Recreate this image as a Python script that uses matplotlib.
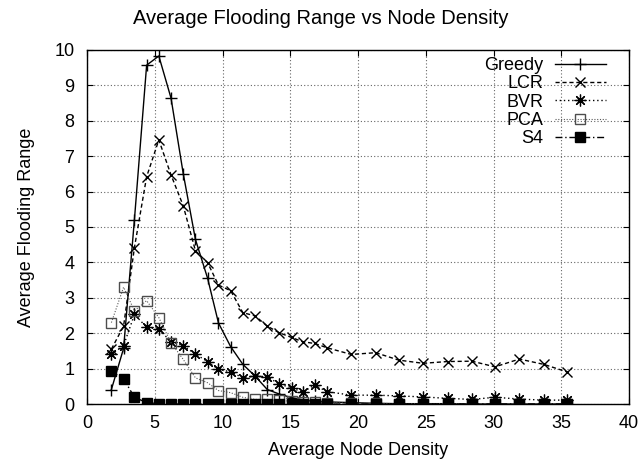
"""Average flooding range vs node density, gnuplot-style line chart."""

import matplotlib

matplotlib.use("Agg")
import matplotlib.pyplot as plt

plt.rcParams["font.family"] = ["Liberation Sans", "DejaVu Sans"]
plt.rcParams["font.size"] = 13

density = [1.8, 2.7, 3.5, 4.4, 5.3, 6.2, 7.1, 8.0, 8.9, 9.7, 10.6, 11.5, 12.4,
           13.3, 14.2, 15.1, 15.9, 16.8, 17.7, 19.5, 21.3, 23.0, 24.8, 26.6,
           28.4, 30.1, 31.9, 33.7, 35.4]

greedy = [0.41, 1.57, 5.21, 9.57, 9.83, 8.64, 6.51, 4.65, 3.55, 2.29, 1.62, 1.12,
          0.79, 0.41, 0.28, 0.18, 0.12, 0.08, 0.06, 0.04, 0.02, 0.01, 0.01, 0.01,
          0.0, 0.0, 0.0, 0.0, 0.0]
lcr = [1.55, 2.2, 4.42, 6.42, 7.46, 6.47, 5.6, 4.33, 3.99, 3.36, 3.2, 2.58, 2.49,
       2.2, 2.01, 1.88, 1.76, 1.71, 1.59, 1.4, 1.45, 1.24, 1.15, 1.2, 1.21, 1.05,
       1.27, 1.12, 0.91]
bvr = [1.4, 1.65, 2.53, 2.17, 2.11, 1.76, 1.65, 1.41, 1.2, 0.98, 0.91, 0.74,
       0.79, 0.77, 0.56, 0.46, 0.33, 0.54, 0.35, 0.25, 0.25, 0.23, 0.2, 0.16,
       0.13, 0.19, 0.14, 0.11, 0.11]
pca = [2.3, 3.3, 2.63, 2.92, 2.44, 1.73, 1.26, 0.74, 0.6, 0.38, 0.32, 0.19, 0.13,
       0.13, 0.1, 0.08, 0.06, 0.05, 0.04, 0.02, 0.02, 0.01, 0.01, 0.01, 0.01,
       0.0, 0.0, 0.0, 0.0]
s4 = [0.93, 0.71, 0.19, 0.04, 0.01, 0.0, 0.0, 0.0, 0.0, 0.0, 0.0, 0.0, 0.0,
      0.0, 0.0, 0.0, 0.0, 0.0, 0.0, 0.0, 0.0, 0.0, 0.0, 0.0, 0.0, 0.0, 0.0,
      0.0, 0.0]

x_ticks = [0, 5, 10, 15, 20, 25, 30, 35, 40]
y_ticks = [0, 1, 2, 3, 4, 5, 6, 7, 8, 9, 10]

fig = plt.figure(figsize=(6.42, 4.61), dpi=100)
ax = fig.add_axes([0.1355, 0.1236, 0.8445, 0.768])

ax.plot(density, greedy, color="black", linewidth=1.0, linestyle="-",
        marker="+", markersize=9, markeredgewidth=1.0, label="Greedy")
ax.plot(density, lcr, color="black", linewidth=1.0, linestyle=(0, (3, 2)),
        marker="x", markersize=7.5, markeredgewidth=1.0, label="LCR")
ax.plot(density, bvr, color="black", linewidth=1.0, linestyle=(0, (1, 2)),
        marker=(8, 2, 0), markersize=8.5, markeredgewidth=0.9, label="BVR")
ax.plot(density, pca, color="0.35", linewidth=0.8, linestyle=(0, (1, 1.5)),
        marker="s", markersize=7, markerfacecolor="none",
        markeredgecolor="0.3", markeredgewidth=1.0, label="PCA")
ax.plot(density, s4, color="black", linewidth=1.0, linestyle=(0, (5, 2, 1, 2)),
        marker="s", markersize=7.5, markerfacecolor="black",
        markeredgecolor="black", label="S4")

ax.set_xlim(0, 40)
ax.set_ylim(0, 10)
ax.set_xticks(x_ticks)
ax.set_yticks(y_ticks)
ax.tick_params(direction="in", top=True, right=True, length=4, width=0.8)
ax.tick_params(axis="x", pad=8)
ax.tick_params(axis="y", pad=9)
ax.grid(True, color="0.4", linestyle=(0, (1, 2)), linewidth=0.8)
for spine in ax.spines.values():
    spine.set_linewidth(1.0)

# gnuplot centres the title on the whole canvas, not the plot area
fig.text(0.5, 1 - 19 / 461, "Average Flooding Range vs Node Density",
         ha="center", va="center", fontsize=14.5)
ax.set_xlabel("Average Node Density", labelpad=7)
ax.set_ylabel("Average Flooding Range", labelpad=14)

ax.legend(loc="upper right", bbox_to_anchor=(0.97, 1.0), frameon=False,
          markerfirst=False, handlelength=2.8, handletextpad=0.65,
          labelspacing=0.07, borderaxespad=0.0, fontsize=13)

fig.savefig("out.png", dpi=100)
